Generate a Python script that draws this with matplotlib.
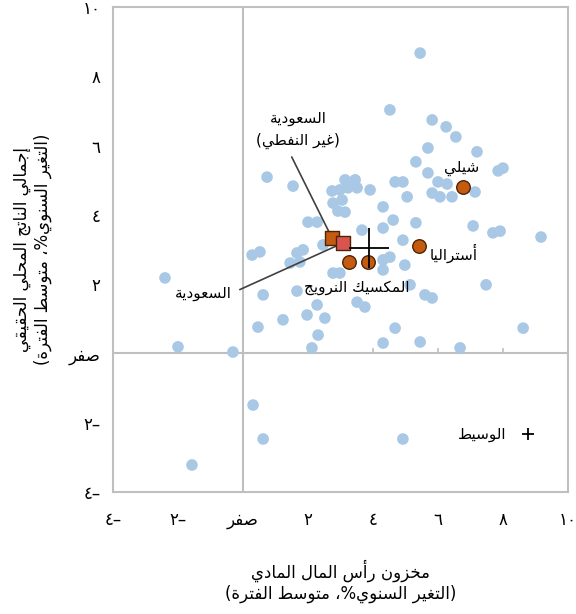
import re
import matplotlib
matplotlib.use('Agg')
import matplotlib.pyplot as plt
from matplotlib.lines import Line2D

# all other economies (light blue dots)
others_x = [5.45, 4.52, 5.82, 6.25, 6.55, 5.69, 7.20, 5.32, 5.69, 7.85, 8.00,
            0.74, 1.54, 3.14, 3.45, 2.74, 2.98, 3.23, 3.51, 3.91, 4.68, 4.92,
            6.00, 6.28, 5.82, 6.06, 6.43, 7.14, 5.05, 2.77, 3.05, 2.92, 3.14,
            4.31, 4.62, 4.31, 5.32, 3.66, 2.00, 2.28, 7.08, 7.69, 7.91, 9.17,
            4.92, 4.52, 4.98, 4.31, 5.14, 5.60, 5.82, 7.48, 4.68, 5.45, 6.68,
            4.31, 8.62, -2.40, -2.00, -0.31, 0.28, 0.52, 0.62, 0.46, 1.23,
            1.97, 2.52, 2.28, 2.31, 1.66, 2.12, 1.66, 1.85, 2.46, 1.45, 1.75,
            2.77, 2.98, 3.51, 3.75, 4.31, 0.31, 0.62, 4.92, -1.57]
others_y = [8.67, 7.03, 6.74, 6.54, 6.25, 5.93, 5.82, 5.53, 5.21, 5.27, 5.35,
            5.09, 4.83, 5.01, 5.01, 4.69, 4.72, 4.78, 4.78, 4.72, 4.95, 4.95,
            4.95, 4.89, 4.63, 4.52, 4.52, 4.66, 4.52, 4.34, 4.43, 4.11, 4.08,
            4.23, 3.85, 3.62, 3.77, 3.56, 3.79, 3.79, 3.68, 3.48, 3.53, 3.36,
            3.27, 2.78, 2.55, 2.41, 1.98, 1.69, 1.60, 1.98, 0.73, 0.33, 0.16,
            0.30, 0.73, 2.18, 0.19, 0.04, 2.84, 2.93, 1.69, 0.76, 0.97,
            1.11, 1.02, 1.40, 0.53, 1.80, 0.16, 2.90, 2.99, 3.13, 2.61, 2.64,
            2.32, 2.32, 1.48, 1.34, 2.70, -1.49, -2.47, -2.47, -3.22]

# highlighted countries
hl_label = ['شيلي', 'أستراليا', 'المكسيك النرويج']
hl_x = [6.77, 5.42, 3.26, 3.85]
hl_y = [4.80, 3.10, 2.64, 2.64]

saudi_label = ['السعودية\n(غير النفطي)', 'السعودية']
saudi_x = [2.74, 3.08]
saudi_y = [3.33, 3.19]

median_x = 3.88
median_y = 3.05

ticks = [-4, -2, 0, 2, 4, 6, 8, 10]
tick_labels = ['–٤', '–٢', 'صفر', '٢', '٤', '٦', '٨', '١٠']

x_title = 'مخزون رأس المال المادي\n(التغير السنوي%، متوسط الفترة)'
y_title = 'إجمالي الناتج المحلي الحقيقي\n(التغير السنوي%، متوسط الفترة)'
legend_label = 'الوسيط'

# arabic letters: isolated presentation form and number of forms
FORMS = {
    'ء': (0xFE80, 1), 'آ': (0xFE81, 2), 'أ': (0xFE83, 2), 'ؤ': (0xFE85, 2),
    'إ': (0xFE87, 2), 'ئ': (0xFE89, 4), 'ا': (0xFE8D, 2), 'ب': (0xFE8F, 4),
    'ة': (0xFE93, 2), 'ت': (0xFE95, 4), 'ث': (0xFE99, 4), 'ج': (0xFE9D, 4),
    'ح': (0xFEA1, 4), 'خ': (0xFEA5, 4), 'د': (0xFEA9, 2), 'ذ': (0xFEAB, 2),
    'ر': (0xFEAD, 2), 'ز': (0xFEAF, 2), 'س': (0xFEB1, 4), 'ش': (0xFEB5, 4),
    'ص': (0xFEB9, 4), 'ض': (0xFEBD, 4), 'ط': (0xFEC1, 4), 'ظ': (0xFEC5, 4),
    'ع': (0xFEC9, 4), 'غ': (0xFECD, 4), 'ف': (0xFED1, 4), 'ق': (0xFED5, 4),
    'ك': (0xFED9, 4), 'ل': (0xFEDD, 4), 'م': (0xFEE1, 4), 'ن': (0xFEE5, 4),
    'ه': (0xFEE9, 4), 'و': (0xFEED, 2), 'ى': (0xFEEF, 2), 'ي': (0xFEF1, 4),
}
LAM_ALEF = {'آ': 0xFEF5, 'أ': 0xFEF7, 'إ': 0xFEF9, 'ا': 0xFEFB}
MIRROR = {'(': ')', ')': '('}


def shape(line):
    units = []
    i = 0
    while i < len(line):
        c = line[i]
        if c == 'ل' and line[i + 1:i + 2] in LAM_ALEF:
            units.append((LAM_ALEF[line[i + 1]], 2))
            i += 2
            continue
        units.append(FORMS.get(c, (c, 0)))
        i += 1
    out = ''
    for k, (base, n) in enumerate(units):
        if n == 0:
            out += base
            continue
        prev_n = units[k - 1][1] if k > 0 else 0
        next_n = units[k + 1][1] if k + 1 < len(units) else 0
        after = prev_n == 4 and n >= 2
        before = n == 4 and next_n >= 2
        out += chr(base + [[0, 2], [1, 3]][after][before])
    return out


def ar(text):
    # shape the letters, then lay each line out right to left
    lines = []
    for line in text.split('\n'):
        tokens = re.findall(r'\d+|\D', shape(line))
        lines.append(''.join(MIRROR.get(t, t) for t in reversed(tokens)))
    return '\n'.join(lines)


plt.rcParams['font.family'] = ['DejaVu Sans']
grey = '#bfbfbf'

fig = plt.figure(figsize=(5.76, 6.14), dpi=100)
ax = fig.add_axes([113 / 576, 122 / 614, 455 / 576, 485 / 614])

ax.axhline(0, color=grey, lw=1.5, zorder=1)
ax.axvline(0, color=grey, lw=1.5, zorder=1)
# little tick marks sitting on the zero line
ax.vlines([t for t in ticks if 0 < t < 10], 0, 0.15, color=grey, lw=1.2, zorder=1)

ax.scatter(others_x, others_y, s=70, color='#a8c8e6', edgecolors='none', zorder=2)
ax.scatter(hl_x, hl_y, s=95, color='#c55a11', edgecolors='#4d2408', linewidths=1.0, zorder=4)
ax.scatter(saudi_x[:1], saudi_y[:1], marker='s', s=100, color='#c55a11',
           edgecolors='#4d2408', linewidths=1.0, zorder=5)
ax.scatter(saudi_x[1:], saudi_y[1:], marker='s', s=100, color='#d9534f',
           edgecolors='#4d2408', linewidths=1.0, zorder=6)
ax.scatter([median_x], [median_y], marker='+', s=800, color='black', linewidths=1.3, zorder=7)

fs = 11
ax.text(6.74, 5.35, ar(hl_label[0]), ha='center', va='center', fontsize=fs)
ax.text(5.75, 2.90, ar(hl_label[1]), ha='left', va='center', fontsize=fs)
ax.text(3.51, 1.89, ar(hl_label[2]), ha='center', va='center', fontsize=fs)

line_kw = dict(arrowstyle='-', color='#404040', lw=1.2)
ax.annotate(ar(saudi_label[0]), xy=(saudi_x[0], saudi_y[0]), xytext=(1.69, 6.45),
            ha='center', va='center', fontsize=fs, linespacing=1.6,
            arrowprops=dict(shrinkA=4, shrinkB=5, relpos=(0.38, 0), **line_kw))
ax.annotate(ar(saudi_label[1]), xy=(saudi_x[1], saudi_y[1]), xytext=(-0.34, 1.74),
            ha='right', va='center', fontsize=fs,
            arrowprops=dict(shrinkA=4, shrinkB=6, relpos=(1, 0.5), **line_kw))

ax.set_xlim(-4, 10)
ax.set_ylim(-4, 10)
ax.set_xticks(ticks)
ax.set_yticks(ticks)
ax.set_xticklabels([ar(t) for t in tick_labels])
ax.set_yticklabels([ar(t) for t in tick_labels])
ax.tick_params(length=0, labelsize=12)
ax.tick_params(axis='x', pad=14)
ax.tick_params(axis='y', pad=9)
for sp in ax.spines.values():
    sp.set_color(grey)
    sp.set_linewidth(1.5)

ax.set_xlabel(ar(x_title), fontsize=12, linespacing=1.15)
ax.xaxis.set_label_coords(0.5, -0.14)
ax.set_ylabel(ar(y_title), fontsize=12, linespacing=1.15)
ax.yaxis.set_label_coords(-0.135, 0.5)

proxy = Line2D([], [], marker='+', color='black', linestyle='none', markersize=9, mew=1.3)
ax.legend([proxy], [ar(legend_label)], loc='center right', bbox_to_anchor=(0.975, 0.118),
          frameon=False, markerfirst=False, handletextpad=0.4, fontsize=fs)

fig.savefig('out.png', dpi=100)
